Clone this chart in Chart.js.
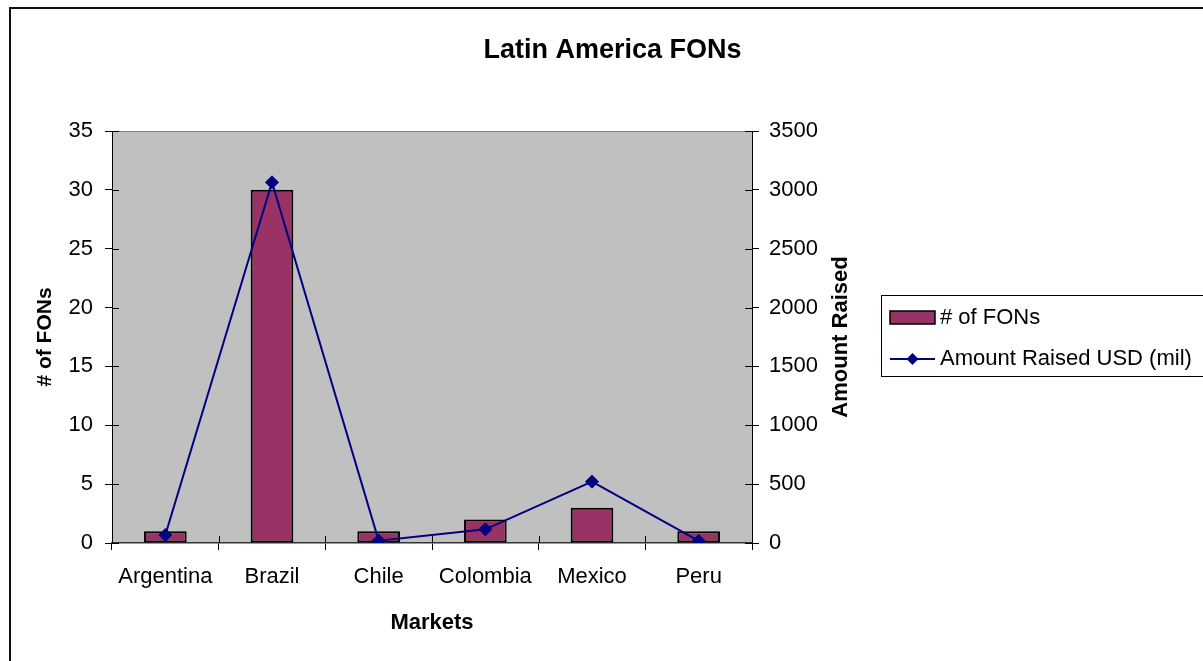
<!DOCTYPE html>
<html>
<head>
<meta charset="utf-8">
<title>Latin America FONs</title>
<script src="https://cdn.jsdelivr.net/npm/chart.js@4.4.1/dist/chart.umd.min.js"></script>
<style>
    html, body { margin: 0; padding: 0; background: #fff; }
    #wrap { width: 1203px; height: 661px; position: relative; overflow: hidden; }
</style>
</head>
<body>
<div id="wrap"><canvas id="chart-fons" width="1203" height="661"></canvas></div>
<script>
const markets = ['Argentina', 'Brazil', 'Chile', 'Colombia', 'Mexico', 'Peru'];
const fonCounts = [1, 30, 1, 2, 3, 1];
const amountRaised = [68, 3064, 20, 116, 521, 17];
const fonTicks = [0, 5, 10, 15, 20, 25, 30, 35];
const amountTicks = [0, 500, 1000, 1500, 2000, 2500, 3000, 3500];

const FONT = "'Liberation Sans', Arial, sans-serif";
const BAR_COLOR = '#993366';
const LINE_COLOR = '#000080';

// gray plot area, outer frame, cross ticks
const plotBackground = {
    id: 'plotBackground',
    beforeDraw(chart) {
        const { ctx, chartArea: a } = chart;
        ctx.save();
        ctx.fillStyle = '#fff';
        ctx.fillRect(0, 0, chart.width, chart.height);
        ctx.strokeStyle = '#111';
        ctx.lineWidth = 2;
        ctx.strokeRect(10, 8, chart.width + 20, chart.height + 20);
        ctx.fillStyle = '#c0c0c0';
        ctx.fillRect(a.left, a.top, a.right - a.left, a.bottom - a.top);
        ctx.strokeStyle = '#808080';
        ctx.lineWidth = 1;
        ctx.beginPath();
        ctx.moveTo(a.left, a.top + 0.5);
        ctx.lineTo(a.right, a.top + 0.5);
        ctx.stroke();
        ctx.restore();
    },
    beforeDatasetsDraw(chart) {
        const { ctx, chartArea: a, scales } = chart;
        ctx.save();
        ctx.strokeStyle = '#000';
        ctx.lineWidth = 1;
        ctx.beginPath();
        scales.y.ticks.forEach((t, i) => {
            const p = Math.round(scales.y.getPixelForTick(i)) + 0.5;
            ctx.moveTo(a.left, p); ctx.lineTo(a.left + 7, p);
        });
        scales.y1.ticks.forEach((t, i) => {
            const p = Math.round(scales.y1.getPixelForTick(i)) + 0.5;
            ctx.moveTo(a.right - 7, p); ctx.lineTo(a.right, p);
        });
        for (let i = 0; i <= markets.length; i++) {
            const p = Math.round(scales.x.getPixelForValue(i - 0.5)) + 0.5;
            ctx.moveTo(p, a.bottom - 7); ctx.lineTo(p, a.bottom);
        }
        ctx.stroke();
        ctx.restore();
    }
};

// right axis title reads bottom to top, and the boxed legend
const extras = {
    id: 'extras',
    afterDraw(chart) {
        const { ctx, chartArea: a, scales } = chart;
        ctx.save();
        ctx.fillStyle = '#000';
        ctx.font = `bold 22px ${FONT}`;
        ctx.textAlign = 'center';
        ctx.textBaseline = 'middle';
        ctx.translate(scales.y1.left + 89, (a.top + a.bottom) / 2);
        ctx.rotate(-Math.PI / 2);
        ctx.fillText('Amount Raised', 0, 0);
        ctx.restore();

        const ds = chart.data.datasets;
        ctx.save();
        ctx.strokeStyle = '#000';
        ctx.lineWidth = 1;
        ctx.fillStyle = '#fff';
        ctx.fillRect(881.5, 295.5, 340, 81);
        ctx.strokeRect(881.5, 295.5, 340, 81);

        ctx.fillStyle = BAR_COLOR;
        ctx.fillRect(890, 311, 45, 13);
        ctx.lineWidth = 1.5;
        ctx.strokeRect(890, 311, 45, 13);

        ctx.strokeStyle = LINE_COLOR;
        ctx.lineWidth = 2;
        ctx.beginPath();
        ctx.moveTo(890, 359); ctx.lineTo(935, 359);
        ctx.stroke();
        ctx.fillStyle = LINE_COLOR;
        ctx.beginPath();
        ctx.moveTo(912.5, 353); ctx.lineTo(918.5, 359); ctx.lineTo(912.5, 365); ctx.lineTo(906.5, 359);
        ctx.closePath();
        ctx.fill();

        ctx.fillStyle = '#000';
        ctx.font = `22px ${FONT}`;
        ctx.textAlign = 'left';
        ctx.textBaseline = 'middle';
        ctx.fillText(ds[0].label, 940, 318);
        ctx.fillText(ds[1].label, 940, 359);
        ctx.restore();
    }
};

const ctx = document.getElementById('chart-fons').getContext('2d');

new Chart(ctx, {
    data: {
        labels: markets,
        datasets: [
            {
                type: 'bar',
                label: '# of FONs',
                data: fonCounts,
                yAxisID: 'y',
                backgroundColor: BAR_COLOR,
                borderColor: '#000',
                borderWidth: 2,
                borderSkipped: false,
                categoryPercentage: 1,
                barPercentage: 0.4,
                order: 1
            },
            {
                type: 'line',
                label: 'Amount Raised USD (mil)',
                data: amountRaised,
                yAxisID: 'y1',
                borderColor: LINE_COLOR,
                backgroundColor: LINE_COLOR,
                borderWidth: 2,
                pointStyle: 'rectRot',
                pointRadius: 6.5,
                pointBorderWidth: 1,
                tension: 0,
                order: 0
            }
        ]
    },
    options: {
        responsive: false,
        animation: false,
        devicePixelRatio: 1,
        layout: { padding: { left: 22, right: 0, top: 0, bottom: 0 } },
        plugins: {
            legend: { display: false },
            tooltip: { enabled: false },
            title: {
                display: true,
                text: 'Latin America FONs',
                color: '#000',
                font: { family: FONT, size: 27, weight: 'bold' },
                padding: { top: 34, bottom: 64.6 }
            }
        },
        scales: {
            x: {
                offset: true,
                grid: { offset: true, drawOnChartArea: false, tickLength: 7, color: '#000' },
                border: { color: '#333', width: 1.5 },
                ticks: { color: '#000', padding: 14, font: { family: FONT, size: 22 } },
                title: {
                    display: true, text: 'Markets', color: '#000',
                    font: { family: FONT, size: 22, weight: 'bold' },
                    padding: { top: 0, bottom: 25 }
                },
                afterFit(scale) { scale.height = 118; }
            },
            y: {
                position: 'left',
                min: 0, max: 35,
                afterBuildTicks(scale) { scale.ticks = fonTicks.map(v => ({ value: v })); },
                grid: { drawOnChartArea: false, tickLength: 7, color: '#000' },
                border: { color: '#000', width: 1 },
                ticks: { color: '#000', padding: 12, font: { family: FONT, size: 22 }, callback: v => String(v) },
                title: {
                    display: true, text: '# of FONs', color: '#000',
                    font: { family: FONT, size: 21, weight: 'bold' },
                    padding: { top: 11, bottom: 0 }
                },
                afterFit(scale) { scale.width = 90; }
            },
            y1: {
                position: 'right',
                min: 0, max: 3500,
                afterBuildTicks(scale) { scale.ticks = amountTicks.map(v => ({ value: v })); },
                grid: { drawOnChartArea: false, tickLength: 7, color: '#000' },
                border: { color: '#000', width: 1 },
                ticks: { color: '#000', padding: 10, font: { family: FONT, size: 22 }, callback: v => String(v) },
                afterFit(scale) { scale.width = 451; }
            }
        }
    },
    plugins: [plotBackground, extras]
});
</script>
</body>
</html>
